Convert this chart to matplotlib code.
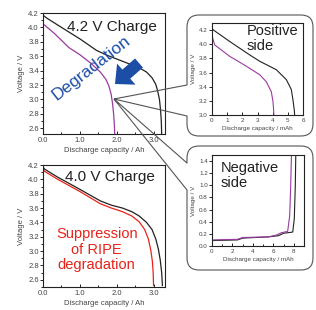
import numpy as np
import matplotlib
matplotlib.use("Agg")
import matplotlib.pyplot as plt
from matplotlib.path import Path
from matplotlib.patches import PathPatch, FancyArrow
from matplotlib.ticker import MultipleLocator, FormatStrFormatter

plt.rcParams["font.family"] = ["Liberation Sans", "DejaVu Sans"]

# ---- data ----
# 4.2 V charge cell (Ah)
q42_ref = [0, 0.1, 0.5, 1.0, 1.45, 1.75, 2.0, 2.3, 2.6, 2.8, 2.95, 3.05, 3.1, 3.15, 3.18, 3.2, 3.21]
v42_ref = [4.17, 4.13, 4.00, 3.84, 3.68, 3.61, 3.56, 3.50, 3.44, 3.38, 3.30, 3.21, 3.12, 3.00, 2.85, 2.70, 2.52]
q42_deg = [0, 0.3, 0.7, 1.0, 1.3, 1.55, 1.7, 1.78, 1.84, 1.88, 1.91, 1.93, 1.94]
v42_deg = [4.05, 3.92, 3.72, 3.62, 3.50, 3.38, 3.28, 3.19, 3.08, 2.95, 2.80, 2.65, 2.52]

# 4.0 V charge cell (Ah)
q40_ref = [0, 0.05, 0.4, 1.0, 1.55, 1.85, 2.15, 2.4, 2.6, 2.8, 2.95, 3.05, 3.12, 3.17, 3.21, 3.23]
v40_ref = [4.17, 4.14, 4.03, 3.86, 3.70, 3.64, 3.60, 3.55, 3.49, 3.40, 3.30, 3.17, 3.03, 2.88, 2.70, 2.52]
q40_cyc = [0, 0.05, 0.4, 1.0, 1.55, 1.85, 2.15, 2.4, 2.6, 2.75, 2.85, 2.92, 2.96, 2.98, 2.99]
v40_cyc = [4.14, 4.11, 4.00, 3.83, 3.66, 3.60, 3.55, 3.49, 3.41, 3.30, 3.17, 3.00, 2.85, 2.70, 2.52]

# positive half cell (mAh)
qpos_ref = [0, 0.1, 1.16, 2.48, 3.14, 4.24, 4.9, 5.23, 5.34, 5.42, 5.45]
vpos_ref = [4.22, 4.20, 4.04, 3.85, 3.76, 3.64, 3.50, 3.36, 3.21, 3.08, 3.0]
qpos_deg = [0, 0.05, 0.18, 1.16, 2.26, 3.14, 3.58, 3.91, 4.02, 4.06, 4.08]
vpos_deg = [4.14, 4.08, 3.99, 3.83, 3.69, 3.57, 3.47, 3.33, 3.19, 3.08, 3.0]

# negative half cell (mAh)
qneg_ref = [0, 2.5, 3.0, 5.5, 6.5, 7.0, 7.9, 8.05, 8.15, 8.2]
vneg_ref = [0.09, 0.10, 0.13, 0.15, 0.17, 0.21, 0.23, 0.45, 1.0, 1.55]
qneg_deg = [0, 2.5, 3.0, 5.5, 6.3, 6.8, 7.4, 7.6, 7.7, 7.78]
vneg_deg = [0.10, 0.11, 0.14, 0.15, 0.18, 0.22, 0.24, 0.50, 1.0, 1.55]

BLACK = "#222222"
PURPLE = "#9a3a9e"
RED = "#e8231a"
BLUE = "#1d4ea6"
TICKC = "#444444"

W, H = 316, 310
fig = plt.figure(figsize=(W / 100, H / 100), dpi=100)


def px_axes(l, t, r, b):
    return fig.add_axes([l / W, 1 - b / H, (r - l) / W, (b - t) / H])


def style(ax, fs, lfs, xlab, xmaj, xmin, xfmt, ymaj, ymin=None):
    ax.xaxis.set_major_locator(MultipleLocator(xmaj))
    ax.xaxis.set_minor_locator(MultipleLocator(xmin))
    ax.xaxis.set_major_formatter(FormatStrFormatter(xfmt))
    ax.yaxis.set_major_locator(MultipleLocator(ymaj))
    if ymin:
        ax.yaxis.set_minor_locator(MultipleLocator(ymin))
    ax.yaxis.set_major_formatter(FormatStrFormatter("%.1f"))
    ax.tick_params(axis="x", which="both", direction="in", length=2, width=0.6,
                   labelsize=fs, labelcolor=TICKC, pad=2)
    ax.tick_params(axis="y", which="both", direction="out", length=2, width=0.6,
                   labelsize=fs, labelcolor=TICKC, pad=1)
    ax.tick_params(which="minor", length=1.3)
    for s in ax.spines.values():
        s.set_linewidth(0.8)
        s.set_color(BLACK)
    ax.set_xlabel(xlab, fontsize=lfs, color=TICKC, labelpad=2)
    ax.set_ylabel("Voltage / V", fontsize=lfs, color=TICKC, labelpad=2)


# ---------------- main panel: 4.2 V ----------------
ax1 = px_axes(43, 13, 165, 134)
ax1.plot(q42_ref, v42_ref, color=BLACK, lw=0.9)
ax1.plot(q42_deg, v42_deg, color=PURPLE, lw=0.9)
ax1.set_xlim(0, 3.3)
ax1.set_ylim(2.52, 4.2)
style(ax1, 5.5, 5.5, "Discharge capacity / Ah", 1.0, 0.5, "%.1f", 0.2, 0.1)
ax1.text(0.565, 0.885, "4.2 V Charge", transform=ax1.transAxes, fontsize=11,
         ha="center", va="center", color=BLACK)

# ---------------- main panel: 4.0 V ----------------
ax2 = px_axes(43, 165, 165, 287)
ax2.plot(q40_ref, v40_ref, color=BLACK, lw=0.9)
ax2.plot(q40_cyc, v40_cyc, color=RED, lw=0.9)
ax2.set_xlim(0, 3.3)
ax2.set_ylim(2.5, 4.2)
style(ax2, 5.5, 5.5, "Discharge capacity / Ah", 1.0, 0.5, "%.1f", 0.2, 0.1)
ax2.text(0.55, 0.9, "4.0 V Charge", transform=ax2.transAxes, fontsize=11,
         ha="center", va="center", color=BLACK)
ax2.text(0.44, 0.305, "Suppression\nof RIPE\ndegradation", transform=ax2.transAxes,
         fontsize=10.5, ha="center", va="center", color=RED, linespacing=1.15)

# ---------------- inset: positive side ----------------
ax3 = px_axes(212, 23, 303, 115)
ax3.plot(qpos_ref, vpos_ref, color=BLACK, lw=0.8)
ax3.plot(qpos_deg, vpos_deg, color=PURPLE, lw=0.8)
ax3.set_xlim(0, 6)
ax3.set_ylim(3.0, 4.3)
style(ax3, 4.5, 4.5, "Discharge capacity / mAh", 1, 1, "%d", 0.2)
ax3.text(0.385, 0.99, "Positive\nside", transform=ax3.transAxes, fontsize=10.5,
         ha="left", va="top", color=BLACK, linespacing=1.1)

# ---------------- inset: negative side ----------------
ax4 = px_axes(212, 155, 304, 246)
ax4.plot(qneg_ref, vneg_ref, color=BLACK, lw=0.8)
ax4.plot(qneg_deg, vneg_deg, color=PURPLE, lw=0.8)
ax4.set_xlim(0, 9)
ax4.set_ylim(0, 1.5)
style(ax4, 4.5, 4.5, "Discharge capacity / mAh", 2, 1, "%d", 0.2)
ax4.text(0.09, 0.93, "Negative\nside", transform=ax4.transAxes, fontsize=10.5,
         ha="left", va="top", color=BLACK, linespacing=1.1)

# ---------------- overlay: callout bubbles, arrow, label ----------------
ov = fig.add_axes([0, 0, 1, 1], zorder=10)
ov.set_xlim(0, W)
ov.set_ylim(H, 0)
ov.axis("off")


def bubble(x0, y0, x1, y1, gt, gb, tip, r=12):
    verts = [tip, (x0, gt), (x0, y0 + r), (x0, y0), (x0 + r, y0),
             (x1 - r, y0), (x1, y0), (x1, y0 + r),
             (x1, y1 - r), (x1, y1), (x1 - r, y1),
             (x0 + r, y1), (x0, y1), (x0, y1 - r),
             (x0, gb), tip]
    codes = [Path.MOVETO, Path.LINETO, Path.LINETO, Path.CURVE3, Path.CURVE3,
             Path.LINETO, Path.CURVE3, Path.CURVE3,
             Path.LINETO, Path.CURVE3, Path.CURVE3,
             Path.LINETO, Path.CURVE3, Path.CURVE3,
             Path.LINETO, Path.LINETO]
    return PathPatch(Path(verts, codes), facecolor="none", edgecolor="#555555",
                     lw=0.8, joinstyle="round")


tip = (114, 99)
ov.add_patch(bubble(187, 15, 313, 136, 85, 116, tip))
ov.add_patch(bubble(187, 146, 313, 270, 163, 190, tip))

ov.add_patch(FancyArrow(139, 63, -24, 21, width=12, head_width=28, head_length=15,
                        length_includes_head=True, color=BLUE, lw=0))
ov.text(91, 68, "Degradation", fontsize=12.5, color=BLUE, rotation=38,
        ha="center", va="center", rotation_mode="anchor")

fig.savefig("out.png", dpi=100)
